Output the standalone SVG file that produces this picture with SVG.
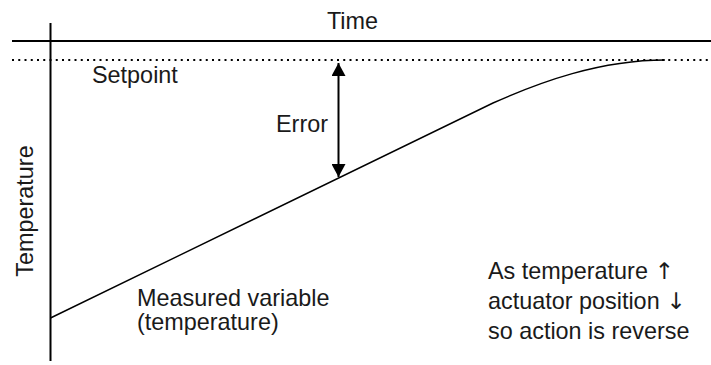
<svg xmlns="http://www.w3.org/2000/svg" width="711" height="365" viewBox="0 0 711 365">
<style>
text{font-family:"Liberation Sans",Arial,sans-serif;font-size:23.4px;fill:#1a1a1a}
.arr{font-family:"DejaVu Sans","Liberation Sans",sans-serif;font-size:23px;font-variant-emoji:text}
.axis{stroke:#000;stroke-width:2;fill:none}
.dot{stroke:#000;stroke-width:2;stroke-dasharray:2 4.25;fill:none}
.curve{stroke:#000;stroke-width:1.4;fill:none}
.err{stroke:#000;stroke-width:2;fill:none}
</style>
<defs>
<marker id="ah" markerUnits="userSpaceOnUse" markerWidth="14" markerHeight="14" refX="13" refY="7" orient="auto-start-reverse" viewBox="0 0 14 14">
<path d="M0,0 L13,7 L0,14 Z" fill="#000"/>
</marker>
</defs>
<g id="axes">
<line class="axis" x1="12" y1="41" x2="711" y2="41"/>
<line class="axis" x1="50.5" y1="23" x2="50.5" y2="361"/>
</g>
<g id="setpoint-line">
<line class="dot" x1="12" y1="60" x2="711" y2="60"/>
</g>
<g id="connectors">
<line class="err" x1="338.5" y1="63" x2="338.5" y2="177" marker-start="url(#ah)" marker-end="url(#ah)"/>
</g>
<g id="measured">
<path class="curve" d="M50.5,318 L493,103 C540,82 600,60 665,60"/>
</g>
<g id="labels">
<text x="352.5" y="29" text-anchor="middle">Time</text>
<text x="92" y="83">Setpoint</text>
<text x="276" y="132">Error</text>
<text transform="translate(33,211) rotate(-90)" text-anchor="middle">Temperature</text>
<text x="137" y="306">Measured variable</text>
<text x="137" y="330">(temperature)</text>
<text x="488" y="279">As temperature <tspan class="arr">↑&#xFE0E;</tspan></text>
<text x="488" y="309">actuator position <tspan class="arr">↓&#xFE0E;</tspan></text>
<text x="488" y="339">so action is reverse</text>
</g>
</svg>
